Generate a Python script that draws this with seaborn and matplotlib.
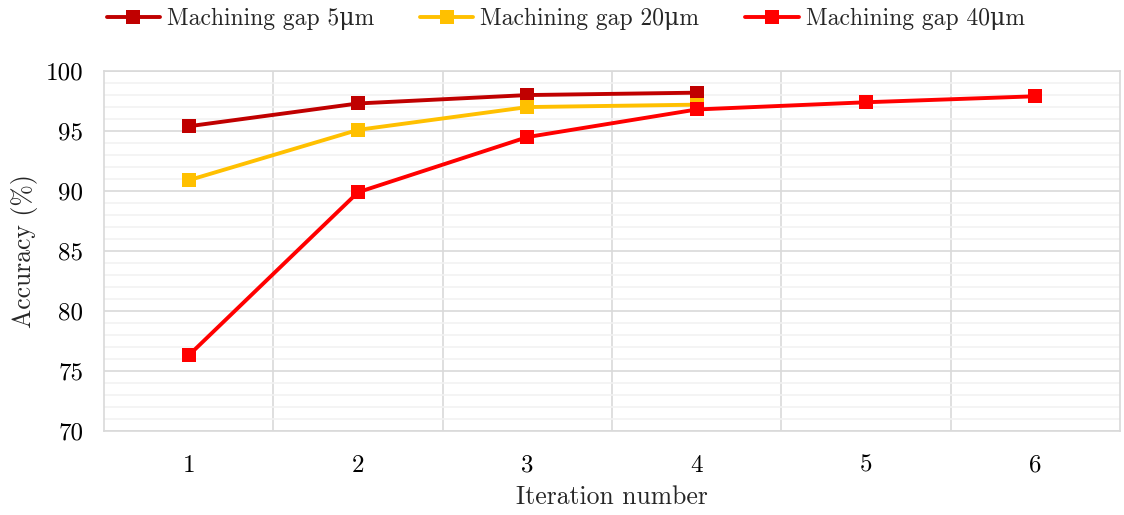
import matplotlib
matplotlib.use("Agg")
import matplotlib.pyplot as plt
from matplotlib.ticker import MultipleLocator, FixedLocator
import seaborn as sns
import pandas as pd

# Accuracy per iteration for each machining gap
iterations_5 = [1, 2, 3, 4]
accuracy_5 = [95.4, 97.3, 98.0, 98.2]
iterations_20 = [1, 2, 3, 4]
accuracy_20 = [90.9, 95.1, 97.0, 97.2]
iterations_40 = [1, 2, 3, 4, 5, 6]
accuracy_40 = [76.3, 89.9, 94.5, 96.8, 97.4, 97.9]
series_names = ["Machining gap 5\u03bcm", "Machining gap 20\u03bcm", "Machining gap 40\u03bcm"]
series_colors = ["#C00000", "#FFC000", "#FF0000"]
tick_labels = ["1", "2", "3", "4", "5", "6"]

frames = []
for name, xs, ys in zip(series_names,
                        [iterations_5, iterations_20, iterations_40],
                        [accuracy_5, accuracy_20, accuracy_40]):
    frames.append(pd.DataFrame({"Iteration": xs, "Accuracy": ys, "Series": name}))
df = pd.concat(frames, ignore_index=True)

sns.set_theme(style="white")
plt.rcParams["font.family"] = ["cmr10", "DejaVu Serif"]
plt.rcParams["mathtext.fontset"] = "cm"
plt.rcParams["axes.unicode_minus"] = False

fig = plt.figure(figsize=(11.24, 5.15), dpi=100)
ax = fig.add_axes([0.0925, 0.163, 0.904, 0.699])

sns.lineplot(data=df, x="Iteration", y="Accuracy", hue="Series",
             hue_order=series_names, palette=series_colors,
             marker="s", markersize=10, markeredgewidth=0,
             linewidth=2.8, ax=ax, legend=True)

ax.set_xlim(0.5, 6.5)
ax.set_ylim(70, 100)
ax.xaxis.set_major_locator(FixedLocator([1, 2, 3, 4, 5, 6]))
ax.xaxis.set_minor_locator(FixedLocator([1.5, 2.5, 3.5, 4.5, 5.5]))
ax.yaxis.set_major_locator(MultipleLocator(5))
ax.yaxis.set_minor_locator(MultipleLocator(1))
ax.set_xticklabels(tick_labels)

ax.grid(False)
ax.grid(which="minor", axis="y", color="#f2f2f2", linewidth=1.2, zorder=0)
ax.grid(which="major", axis="y", color="#d9d9d9", linewidth=1.2, zorder=0)
ax.grid(which="minor", axis="x", color="#d9d9d9", linewidth=1.2, zorder=0)
ax.set_axisbelow(True)
for sp in ax.spines.values():
    sp.set_color("#d9d9d9")
    sp.set_linewidth(1.2)
ax.tick_params(which="both", length=0, labelsize=18, colors="black")
ax.tick_params(axis="x", pad=17)
ax.tick_params(axis="y", pad=15)

ax.set_xlabel("Iteration number", fontsize=18.5, va="center")
ax.set_ylabel("Accuracy (%)", fontsize=18.5, va="center")
ax.xaxis.set_label_coords(0.5, -0.183)
ax.yaxis.set_label_coords(-0.078, 0.5)

handles, labels = ax.get_legend_handles_labels()
ax.get_legend().remove()
fig.legend(handles, labels, loc="center left", bbox_to_anchor=(0.076, 0.963),
           ncol=3, frameon=False, fontsize=17, handlelength=2.25,
           handletextpad=0.3, columnspacing=1.95)

fig.savefig("out.png", dpi=100)
